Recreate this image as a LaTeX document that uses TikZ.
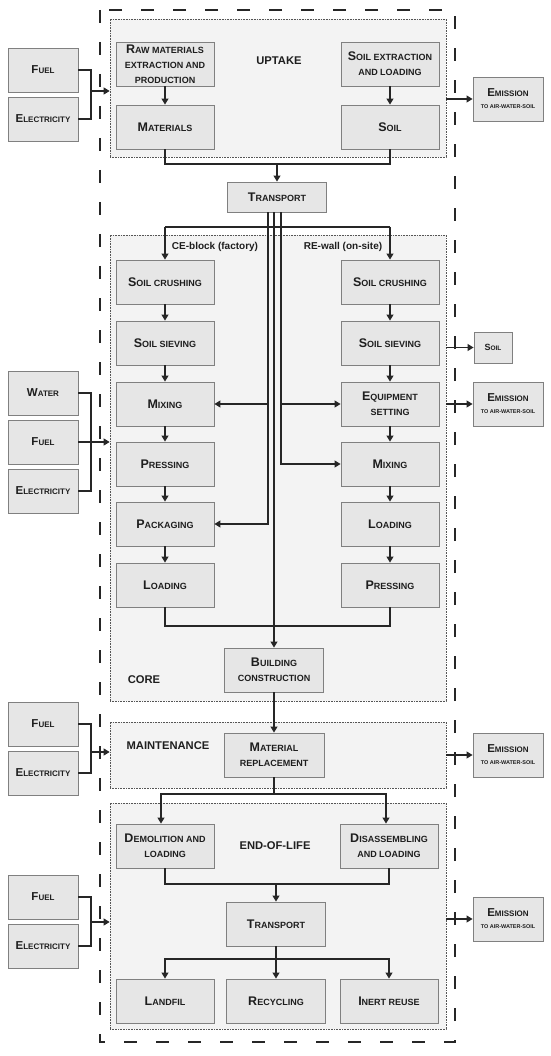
\documentclass[tikz,border=0pt]{standalone}
\usepackage{fontspec}
\setmainfont{Liberation Sans}
\usetikzlibrary{arrows.meta,calc}
\definecolor{boxfill}{HTML}{E6E6E6}
\definecolor{boxdraw}{HTML}{808080}
\definecolor{regfill}{HTML}{F3F3F3}
\definecolor{regdraw}{HTML}{555555}
\definecolor{linec}{HTML}{262626}
\definecolor{txt}{HTML}{1E1E1E}
\newcommand\BC[1]{{\fontsize{12.5}{11}\selectfont #1}}
\newcommand\SC[1]{{\fontsize{11.5}{11}\selectfont #1}}
\newcommand\TinyT[1]{{\fontsize{5.5}{7}\selectfont #1}}
\begin{document}
\begin{tikzpicture}[x=1pt,y=-1pt,
 proc/.style={draw=boxdraw,fill=boxfill,line width=0.9pt,minimum width=98pt,minimum height=44pt,inner sep=1pt,align=center,text=txt,font=\bfseries\fontsize{9}{15}\selectfont},
 side/.style={proc,minimum width=70pt,font=\bfseries\fontsize{8}{15}\selectfont},
 ext/.style={side,font=\bfseries\fontsize{8}{12}\selectfont},
 region/.style={draw=regdraw,fill=regfill,line width=0.7pt,dash pattern=on 0.7pt off 0.9pt,inner sep=0pt,minimum width=336pt},
 outerbox/.style={draw=linec,line width=1.2pt,dash pattern=on 13pt off 19pt},
 lbl/.style={text=txt,font=\bfseries\fontsize{11.2}{12}\selectfont,inner sep=0pt},
 sub/.style={text=txt,font=\bfseries\fontsize{10}{11}\selectfont,inner sep=0pt},
 conn/.style={draw=linec,line width=1.1pt},
 arr/.style={conn,-{Triangle[width=7pt,length=6pt]}},
]
\useasboundingbox (0,0) rectangle (550,1056);
\draw[outerbox] (100,10) rectangle (455,1042);

% regions
\node[region,minimum height=138pt] (uptake) at (278,88) {};
\node[region,minimum height=466pt] (core) at (278,468) {};
\node[region,minimum height=66pt] (maint) at (278,755) {};
\node[region,minimum height=226pt] (eol) at (278,916) {};

% labels
\node[lbl] (lup) at (279,61) {UPTAKE};
\node[sub] (lce) at (215,247) {CE-block (factory)};
\node[sub] (lre) at (343,247) {RE-wall (on-site)};
\node[lbl] (lcore) at (144,680) {CORE};
\node[lbl] (lmaint) at (168,746) {MAINTENANCE};
\node[lbl] (leol) at (275,846) {END-OF-LIFE};

% uptake
\node[side] (fuel1) at (43,70) {\SC{F}UEL};
\node[side] (elec1) at (43,119) {\SC{E}LECTRICITY};
\node[proc] (raw) at (165,64) {\BC{R}AW MATERIALS\\EXTRACTION AND\\PRODUCTION};
\node[proc] (mat) at (165,127) {\BC{M}ATERIALS};
\node[proc] (soilx) at (390,64) {\BC{S}OIL EXTRACTION\\AND LOADING};
\node[proc] (soil1) at (390,127) {\BC{S}OIL};
\node[ext] (em1) at (508,99) {\SC{E}MISSION\\\TinyT{TO AIR-WATER-SOIL}};
\node[proc,minimum width=99pt,minimum height=30pt] (trans1) at (277,197) {\BC{T}RANSPORT};

% core
\node[proc] (ce1) at (165,282) {\BC{S}OIL CRUSHING};
\node[proc] (ce2) at (165,343) {\BC{S}OIL SIEVING};
\node[proc] (ce3) at (165,404) {\BC{M}IXING};
\node[proc] (ce4) at (165,464) {\BC{P}RESSING};
\node[proc] (ce5) at (165,524) {\BC{P}ACKAGING};
\node[proc] (ce6) at (165,585) {\BC{L}OADING};
\node[proc] (re1) at (390,282) {\BC{S}OIL CRUSHING};
\node[proc] (re2) at (390,343) {\BC{S}OIL SIEVING};
\node[proc] (re3) at (390,404) {\BC{E}QUIPMENT\\SETTING};
\node[proc] (re4) at (390,464) {\BC{M}IXING};
\node[proc] (re5) at (390,524) {\BC{L}OADING};
\node[proc] (re6) at (390,585) {\BC{P}RESSING};
\node[proc,minimum width=38pt,minimum height=31pt,font=\bfseries\fontsize{6.5}{8}\selectfont] (soil2) at (493,347.5) {{\fontsize{9}{9}\selectfont S}OIL};
\node[ext] (em2) at (508,404) {\SC{E}MISSION\\\TinyT{TO AIR-WATER-SOIL}};
\node[side] (water) at (43,393) {\SC{W}ATER};
\node[side] (fuel2) at (43,442) {\SC{F}UEL};
\node[side] (elec2) at (43,491) {\SC{E}LECTRICITY};
\node[proc,minimum width=99pt] (build) at (274,670) {\BC{B}UILDING\\CONSTRUCTION};

% maintenance
\node[side] (fuel3) at (43,724) {\SC{F}UEL};
\node[side] (elec3) at (43,773) {\SC{E}LECTRICITY};
\node[proc,minimum width=100pt] (matrep) at (274,755) {\BC{M}ATERIAL\\REPLACEMENT};
\node[ext] (em3) at (508,755) {\SC{E}MISSION\\\TinyT{TO AIR-WATER-SOIL}};

% end of life
\node[proc] (demo) at (165,846) {\BC{D}EMOLITION AND\\LOADING};
\node[proc] (disas) at (389,846) {\BC{D}ISASSEMBLING\\AND LOADING};
\node[proc,minimum width=99pt] (trans2) at (276,924) {\BC{T}RANSPORT};
\node[proc] (landfil) at (165,1001) {\BC{L}ANDFIL};
\node[proc,minimum width=99pt] (recyc) at (276,1001) {\BC{R}ECYCLING};
\node[proc] (inert) at (389,1001) {\BC{I}NERT REUSE};
\node[side] (fuel4) at (43,897) {\SC{F}UEL};
\node[side] (elec4) at (43,946) {\SC{E}LECTRICITY};
\node[ext] (em4) at (508,919) {\SC{E}MISSION\\\TinyT{TO AIR-WATER-SOIL}};

% junction coordinates
\coordinate (j1) at (91,91);
\coordinate (j2) at (91,442);
\coordinate (j3) at (91,752);
\coordinate (j4) at (91,922);
\coordinate (c1) at (277,164);
\coordinate (tl) at (165,227);
\coordinate (tr) at (390,227);
\coordinate (A) at ([xshift=-9pt]trans1.south);
\coordinate (C) at ([xshift=4pt]trans1.south);
\coordinate (jb) at (274,626);
\coordinate (m1) at (274,794);
\coordinate (e1) at (276,884);
\coordinate (e2) at (276,959);

% uptake connectors
\draw[conn] (fuel1.east) -| (j1) |- (elec1.east);
\draw[arr] (j1) -- (uptake.west |- j1);
\draw[arr] (raw.south) -- (mat.north);
\draw[arr] (soilx.south) -- (soil1.north);
\draw[arr] (uptake.east |- em1) -- (em1.west);
\draw[conn] (mat.south) |- (c1) -| (soil1.south);
\draw[arr] (c1) -- (trans1.north);

% transport distribution
\draw[conn] (tl) -- (tr);
\draw[arr] (tl) -- (ce1.north);
\draw[arr] (tr) -- (re1.north);
\draw[arr] (A) |- (ce5.east);
\draw[arr] (A |- ce3.east) -- (ce3.east);
\draw[arr] (C) |- (re4.west);
\draw[arr] (C |- re3.west) -- (re3.west);
\draw[arr] (trans1.south -| build.north) -- (build.north);

% core chains
\draw[arr] (ce1.south) -- (ce2.north);
\draw[arr] (ce2.south) -- (ce3.north);
\draw[arr] (ce3.south) -- (ce4.north);
\draw[arr] (ce4.south) -- (ce5.north);
\draw[arr] (ce5.south) -- (ce6.north);
\draw[arr] (re1.south) -- (re2.north);
\draw[arr] (re2.south) -- (re3.north);
\draw[arr] (re3.south) -- (re4.north);
\draw[arr] (re4.south) -- (re5.north);
\draw[arr] (re5.south) -- (re6.north);
\draw[conn] (ce6.south) |- (jb) -| (re6.south);
\draw[arr] (core.east |- soil2) -- (soil2.west);
\draw[arr] (core.east |- em2) -- (em2.west);
\draw[conn] (water.east) -| (j2) |- (elec2.east);
\draw[arr] (fuel2.east) -- (core.west |- fuel2);

% maintenance
\draw[arr] (build.south) -- (matrep.north);
\draw[conn] (fuel3.east) -| (j3) |- (elec3.east);
\draw[arr] (j3) -- (maint.west |- j3);
\draw[arr] (maint.east |- em3) -- (em3.west);
\draw[conn] (matrep.south) -- (m1);
\draw[arr] (m1) -| ([xshift=-4pt]demo.north);
\draw[arr] (m1) -| ([xshift=-3pt]disas.north);

% end of life
\draw[conn] (demo.south) |- (e1) -| (disas.south);
\draw[arr] (e1) -- (trans2.north);
\draw[conn] (trans2.south) -- (e2);
\draw[arr] (e2) -| (landfil.north);
\draw[arr] (e2) -- (recyc.north);
\draw[arr] (e2) -| (inert.north);
\draw[conn] (fuel4.east) -| (j4) |- (elec4.east);
\draw[arr] (j4) -- (eol.west |- j4);
\draw[arr] (eol.east |- em4) -- (em4.west);
\end{tikzpicture}
\end{document}
